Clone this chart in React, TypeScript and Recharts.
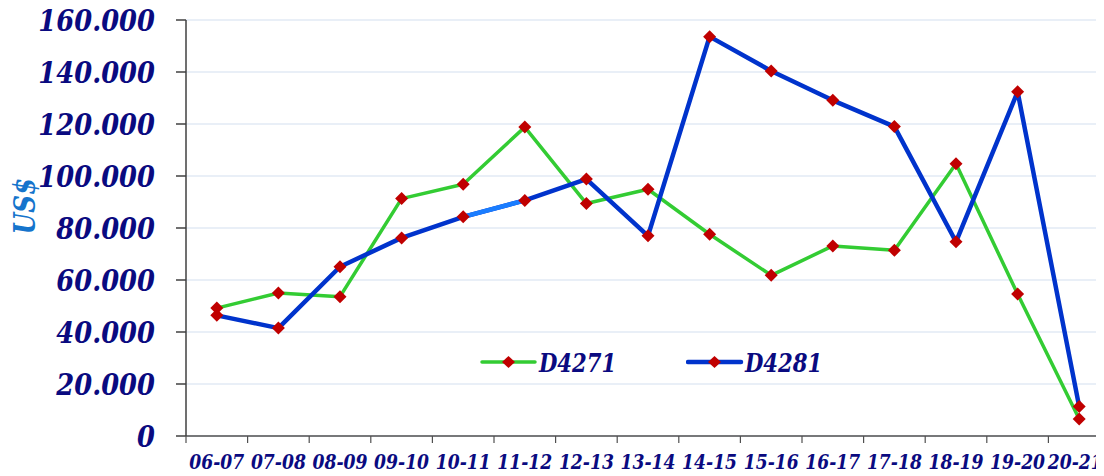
import { LineChart, Line, XAxis, YAxis, CartesianGrid, Legend } from "recharts";

// Revenue per season, thousands of US$
const SEASONS = [
  "06-07", "07-08", "08-09", "09-10", "10-11", "11-12", "12-13", "13-14",
  "14-15", "15-16", "16-17", "17-18", "18-19", "19-20", "20-21",
];
const D4271 = [49.2, 55.0, 53.6, 91.3, 96.8, 118.8, 89.4, 94.9, 77.6, 61.8, 73.1, 71.4, 104.7, 54.6, 6.5];
const D4281 = [46.4, 41.5, 65.1, 76.2, 84.3, 90.6, 98.8, 77.0, 153.6, 140.4, 129.1, 119.0, 74.7, 132.4, 11.3];
// segment of D4281 drawn in a lighter blue
const HIGHLIGHT_SEASONS = ["10-11", "11-12"];
const Y_TICKS = [0, 20, 40, 60, 80, 100, 120, 140, 160];

const DATA = SEASONS.map((season, i) => ({
  season,
  D4271: D4271[i],
  D4281: D4281[i],
  hl: HIGHLIGHT_SEASONS.includes(season) ? D4281[i] : null,
}));

const FONT = "'DejaVu Serif', serif";
const NAVY = "#0a0a80";
const GREEN = "#33cc33";
const BLUE = "#0033cc";
const RED = "#c00000";

const fmtY = (v: number) => (v === 0 ? "0" : `${v}.000`);

const Diamond = (props: any) => {
  const { cx, cy, index } = props;
  if (cx == null || cy == null) return null;
  const r = 6.5;
  return (
    <path
      key={`dot-${index}`}
      d={`M${cx},${cy - r}L${cx + r},${cy}L${cx},${cy + r}L${cx - r},${cy}Z`}
      fill={RED}
    />
  );
};

const SeasonTick = (props: any) => {
  const { x, y, payload, index, width, visibleTicksCount } = props;
  const band = width / visibleTicksCount;
  const last = index === visibleTicksCount - 1;
  // last label is nudged left so it stays inside the page
  const tx = last ? x - 4 : x;
  return (
    <g>
      <line x1={x - band / 2} x2={x - band / 2} y1={y} y2={y + 7} stroke="#505050" strokeWidth={1.2} />
      {last && <line x1={x + band / 2} x2={x + band / 2} y1={y} y2={y + 7} stroke="#505050" strokeWidth={1.2} />}
      <text
        transform={`translate(${tx}, ${y + 33}) scale(0.86, 1)`}
        textAnchor="middle"
        fill={NAVY}
        fontFamily={FONT}
        fontSize={20}
        fontWeight="bold"
        fontStyle="italic"
      >
        {payload.value}
      </text>
    </g>
  );
};

const ValueTick = (props: any) => {
  const { x, y, payload } = props;
  return (
    <text
      transform={`translate(${x}, ${y}) scale(0.86, 1)`}
      textAnchor="end"
      dy="0.36em"
      fill={NAVY}
      fontFamily={FONT}
      fontSize={30}
      fontWeight="bold"
      fontStyle="italic"
    >
      {fmtY(payload.value)}
    </text>
  );
};

const LegendContent = (props: any) => {
  const items = (props.payload || []).filter((p: any) => p.color === GREEN || p.color === BLUE);
  return (
    <div style={{ display: "flex", alignItems: "center" }}>
      {items.map((p: any) => (
        <svg key={p.value} width={206} height={36} style={{ display: "block" }}>
          <line x1={2} x2={55} y1={18} y2={18} stroke={p.color} strokeWidth={p.color === BLUE ? 4.5 : 3.5} strokeLinecap="round" />
          <path d="M28.5,12L35,18L28.5,24L22,18Z" fill={RED} />
          <text
            transform="translate(59, 27.5) scale(0.8, 1)"
            fill={NAVY}
            fontFamily={FONT}
            fontSize={26.5}
            fontWeight="bold"
            fontStyle="italic"
          >
            {p.value}
          </text>
        </svg>
      ))}
    </div>
  );
};

const UnitLabel = (p: any) => {
  const x = p.viewBox.x + 27;
  const y = p.viewBox.y + 186;
  return (
    <text
      transform={`translate(${x}, ${y}) rotate(-90) scale(0.82, 1)`}
      textAnchor="middle"
      fill="#1574cc"
      fontFamily={FONT}
      fontSize={30}
      fontWeight="bold"
      fontStyle="italic"
    >
      US$
    </text>
  );
};

export default function App() {
  return (
    <div style={{ width: 1096, overflow: "hidden" }}>
      <style>{`.recharts-surface { overflow: visible; }`}</style>
      <LineChart width={1102} height={468} data={DATA} margin={{ top: 12, right: 0, left: 0, bottom: 0 }}>
        <CartesianGrid vertical={false} stroke="#d3e0f0" strokeWidth={1.2} />
        <XAxis
          dataKey="season"
          scale="band"
          height={40}
          interval={0}
          tickLine={false}
          tickSize={0}
          tickMargin={0}
          stroke="#505050"
          strokeWidth={1.5}
          tick={<SeasonTick />}
        />
        <YAxis
          width={178}
          domain={[0, 160]}
          ticks={Y_TICKS}
          tickSize={10}
          tickMargin={21}
          stroke="#404040"
          strokeWidth={1.5}
          tick={<ValueTick />}
          label={{ content: UnitLabel }}
        />
        <Legend
          layout="horizontal"
          verticalAlign="middle"
          align="center"
          wrapperStyle={{ left: 472, top: 336, width: 420 }}
          content={<LegendContent />}
        />
        <Line
          dataKey="D4271"
          name="D4271"
          stroke={GREEN}
          strokeWidth={3.5}
          strokeLinejoin="round"
          dot={Diamond}
          activeDot={false}
          isAnimationActive={false}
        />
        <Line
          dataKey="D4281"
          name="D4281"
          stroke={BLUE}
          strokeWidth={4.5}
          strokeLinejoin="round"
          dot={false}
          activeDot={false}
          isAnimationActive={false}
        />
        <Line
          dataKey="hl"
          stroke="#1a7dff"
          strokeWidth={4.5}
          legendType="none"
          dot={false}
          activeDot={false}
          connectNulls={false}
          isAnimationActive={false}
        />
        <Line
          dataKey="D4281"
          stroke="none"
          legendType="none"
          dot={Diamond}
          activeDot={false}
          isAnimationActive={false}
        />
      </LineChart>
    </div>
  );
}
